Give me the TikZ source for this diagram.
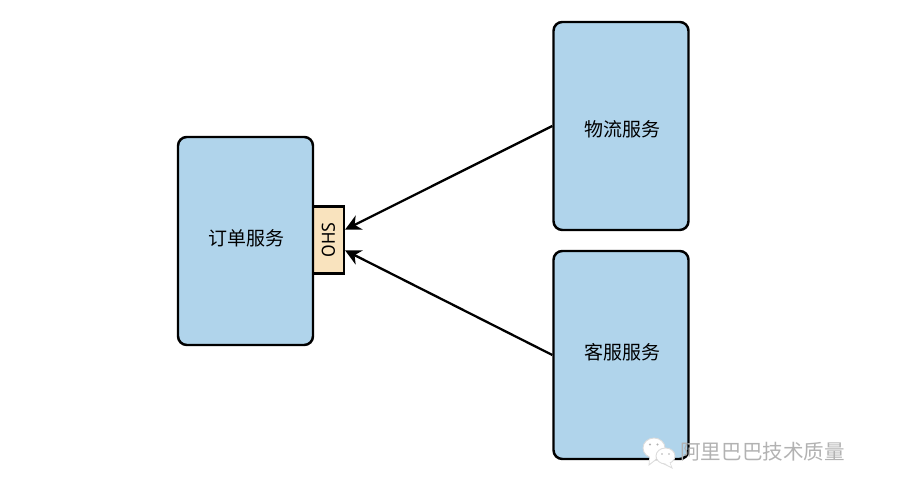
\documentclass[tikz,border=0pt]{standalone}
\usepackage{fontspec}
\usetikzlibrary{arrows.meta}
\setmainfont{PT Sans}
\newfontfamily\cjk{Noto Sans CJK SC}
\definecolor{svcblue}{RGB}{176,212,235}
\definecolor{ohsfill}{RGB}{249,227,190}
\definecolor{wmgray}{RGB}{178,178,178}
\newcommand{\svclabel}[1]{\hspace*{1.5pt}#1}
\tikzset{
	service/.style={draw=black, line width=1.4pt, rounded corners=5pt, fill=svcblue, minimum width=2.7cm, minimum height=4.16cm, font=\cjk\fontsize{10.8}{13}\selectfont},
	raised/.style={text height=8pt, text depth=3.2pt},
	lowered/.style={text height=12pt, text depth=0.4pt},
	ohsbox/.style={draw=black, line width=1.2pt, fill=ohsfill, minimum width=0.62cm, minimum height=1.34cm, inner sep=0pt, font=\fontsize{10.5}{12}\selectfont},
	link/.style={-{Stealth[length=9pt,width=9pt]}, line width=1.3pt, black},
	bubble/.style={fill=white, draw=wmgray!45, line width=0.5pt}
}
\begin{document}
\begin{tikzpicture}
	\useasboundingbox (0,0) rectangle (18.12,9.74);

	% OHS tab sits behind the left box
	\node[ohsbox] (ohs) at (6.57,4.94) {\rotatebox{90}{OHS}};

	% Services
	\node[service, raised] (order) at (4.91,4.92) {\svclabel{订单服务}};
	\node[service, lowered] (logistics) at (12.42,7.22) {\svclabel{物流服务}};
	\node[service, raised] (support) at (12.42,2.64) {\svclabel{客服服务}};

	\draw[link] (logistics.west) -- (ohs.32);
	\draw[link] (support.west) -- (ohs.-32);

	% Chat icon and caption, lower right
	\fill[white, draw=wmgray!45, line width=0.5pt] (13.0,0.62) -- (12.98,0.44) -- (13.16,0.58) -- cycle;
	\draw[bubble] (13.08,0.78) ellipse [x radius=0.22, y radius=0.2];
	\fill[white] (13.0,0.66) -- (12.99,0.47) -- (13.15,0.62) -- cycle;
	\fill[white, draw=wmgray!45, line width=0.5pt] (13.38,0.52) -- (13.44,0.38) -- (13.26,0.47) -- cycle;
	\draw[bubble] (13.31,0.62) ellipse [x radius=0.19, y radius=0.16];
	\fill[white] (13.37,0.54) -- (13.42,0.41) -- (13.28,0.49) -- cycle;
	\fill[wmgray] (13.0,0.85) circle (0.022) (13.15,0.85) circle (0.022) (13.24,0.66) circle (0.018) (13.38,0.66) circle (0.018);
	\node[anchor=west, inner sep=0pt, text=wmgray, font=\cjk\fontsize{11.7}{14}\selectfont] (caption) at (13.6,0.70) {阿里巴巴技术质量};
\end{tikzpicture}
\end{document}
